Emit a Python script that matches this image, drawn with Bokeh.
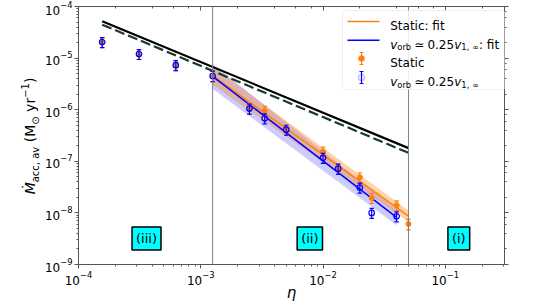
import numpy as np
from bokeh.plotting import figure
from bokeh.layouts import row
from bokeh.models import (LogAxis, Label, Span, BoxAnnotation, Arrow, TeeHead,
                          Range1d, CustomJSTickFormatter, Div)
from bokeh.embed import file_html
from bokeh.resources import INLINE

# ---------------- data ----------------
eta_static = [1.5625e-4, 3.125e-4, 6.25e-4, 1.25e-3, 2.5e-3, 3.33e-3, 5e-3,
              1e-2, 1.33e-2, 2e-2, 2.5e-2, 4e-2, 5e-2]
mdot_static = [2.05e-5, 1.2e-5, 7.3e-6, 4.5e-6, 1.05e-6, 9.5e-7, 4.1e-7,
               1.55e-7, 7.2e-8, 4.9e-8, 1.95e-8, 1.4e-8, 6.1e-9]
err_static = [4.5e-6, 2.6e-6, 1.6e-6, 1.0e-6, 2.3e-7, 2.1e-7, 9e-8,
              3.4e-8, 1.6e-8, 1.1e-8, 4.3e-9, 3.1e-9, 1.4e-9]

eta_orb = [1.5625e-4, 3.125e-4, 6.25e-4, 1.25e-3, 2.5e-3, 3.33e-3, 5e-3,
           1e-2, 1.33e-2, 2e-2, 2.5e-2, 4e-2]
mdot_orb = [2.05e-5, 1.2e-5, 7.3e-6, 4.5e-6, 1.05e-6, 6.8e-7, 4.1e-7,
            1.17e-7, 7.2e-8, 3.1e-8, 1.0e-8, 8.6e-9]
err_orb = [4.5e-6, 2.6e-6, 1.6e-6, 1.0e-6, 2.3e-7, 1.5e-7, 9e-8,
           2.6e-8, 1.6e-8, 6.8e-9, 2.2e-9, 1.9e-9]

# power-law fits: log10(Mdot) = a + b*log10(eta), with 1-sigma errors
fit_static = dict(a=-10.276, b=-1.70, da=0.06, db=0.04, eta=[1.25e-3, 5e-2])
fit_orb = dict(a=-10.623, b=-1.815, da=0.072, db=0.058, eta=[1.25e-3, 4e-2])

# analytic estimates (black lines)
eta_analytic = [1.5625e-4, 5e-2]
mdot_solid = [5.2e-5, 1.8e-7]
mdot_dashed = [4.45e-5, 1.46e-7]

# regimes
regime_bounds = [1.25e-3, 5e-2]
regime_names = ["(iii)", "(ii)", "(i)"]
regime_eta = [3.6e-4, 7.8e-3, 0.129]
regime_mdot = 3.2e-9

ORANGE = "#ff7f0e"
BLUE = "#0000ff"
FONT = "DejaVu Sans"

DIV_W = 41
W, H_FIG = 538 - DIV_W, 304
BL, BR, BT, BB = 70 - DIV_W, 34, 6, 37
FW = W - BL - BR
FH = H_FIG - BT - BB

p = figure(width=W, height=H_FIG, x_axis_type="log", y_axis_type="log",
           x_range=Range1d(1e-4, 0.305), y_range=Range1d(1e-9, 1e-4),
           output_backend="svg", toolbar_location=None,
           min_border_left=BL, min_border_right=BR, min_border_top=BT,
           min_border_bottom=BB)
p.grid.visible = False
p.outline_line_color = None
p.background_fill_color = "white"
p.border_fill_color = "white"


def style_axis(ax, labels=True, inward=False):
    ax.axis_line_color = "#555555"
    ax.major_tick_line_color = "#555555"
    ax.minor_tick_line_color = "#555555"
    if inward:
        ax.major_tick_in, ax.major_tick_out = 4, 0
        ax.minor_tick_in, ax.minor_tick_out = 2, 0
    else:
        ax.major_tick_in, ax.major_tick_out = 0, 4
        ax.minor_tick_in, ax.minor_tick_out = 0, 2
    ax.major_label_text_font = FONT
    ax.major_label_text_font_size = "12px"
    ax.major_label_text_color = "black"
    ax.major_label_standoff = 2
    if not labels:
        ax.formatter = CustomJSTickFormatter(code="return ''")
        ax.major_label_standoff = 0


style_axis(p.xaxis[0])
style_axis(p.yaxis[0])
p.xaxis.axis_label = "η"
p.xaxis.axis_label_text_font = FONT
p.xaxis.axis_label_text_font_style = "italic"
p.xaxis.axis_label_text_font_size = "15px"
p.xaxis.axis_label_text_color = "black"
p.xaxis.axis_label_standoff = -4

top_ax = LogAxis()
style_axis(top_ax, labels=False, inward=True)
p.add_layout(top_ax, "above")
right_ax = LogAxis()
style_axis(right_ax, labels=False)
p.add_layout(right_ax, "right")

# ---------------- fit bands and lines ----------------
for fit, col, alpha in ((fit_orb, BLUE, 0.2), (fit_static, ORANGE, 0.35)):
    le = np.log10(np.array(fit["eta"]))
    upper = 10 ** ((fit["a"] + fit["da"]) + (fit["b"] - fit["db"]) * le)
    lower = 10 ** ((fit["a"] - fit["da"]) + (fit["b"] + fit["db"]) * le)
    p.varea(x=fit["eta"], y1=lower, y2=upper, fill_color=col, fill_alpha=alpha)

# analytic lines
p.line(eta_analytic, mdot_solid, line_color="black", line_width=2.2)
p.line(eta_analytic, mdot_dashed, line_color="#173a2c", line_width=2.2,
       line_dash="10 4")

for fit, col in ((fit_static, ORANGE), (fit_orb, BLUE)):
    le = np.log10(np.array(fit["eta"]))
    p.line(fit["eta"], 10 ** (fit["a"] + fit["b"] * le), line_color=col,
           line_width=1.5)

# ---------------- data points with error bars ----------------
def errorbars(x, y, e, col):
    x = np.array(x); y = np.array(y); e = np.array(e)
    p.segment(x0=x, y0=y - e, x1=x, y1=y + e, line_color=col, line_width=1.2)
    p.scatter(x=np.concatenate([x, x]), y=np.concatenate([y - e, y + e]),
              marker="dash", size=4.5, line_color=col, line_width=1.2)


errorbars(eta_static, mdot_static, err_static, ORANGE)
p.scatter(eta_static, mdot_static, marker="circle", size=5,
          fill_color=ORANGE, line_color=ORANGE)
errorbars(eta_orb, mdot_orb, err_orb, BLUE)
p.scatter(eta_orb, mdot_orb, marker="circle", size=5.5, fill_color=None,
          line_color=BLUE, line_width=1.2)

# regime boundaries
for b in regime_bounds:
    p.add_layout(Span(location=b, dimension="height", line_color="#808080",
                      line_width=1))

for name, ex in zip(regime_names, regime_eta):
    p.add_layout(Label(x=ex, y=regime_mdot, text=name, text_align="center",
                       text_baseline="middle", text_font=FONT,
                       text_font_size="13px", text_color="black",
                       background_fill_color="#00ffff",
                       border_line_color="black", border_line_width=1.5,
                       padding=4))

# ---------------- legend (manual) ----------------
LR = FW - 7
LT = FH - 7
LL = LR - 163
LB = LT - 79
p.add_layout(BoxAnnotation(left=LL, right=LR, top=LT, bottom=LB,
                           left_units="screen", right_units="screen",
                           top_units="screen", bottom_units="screen",
                           fill_color="white", fill_alpha=0.85,
                           line_color="#cccccc", line_width=1,
                           border_radius=3))
rows = [LT - 11, LT - 29.7, LT - 48, LT - 67]
TX = LL + 47.7

for ry, col in ((rows[0], ORANGE), (rows[1], BLUE)):
    p.add_layout(Arrow(x_start=LL + 5, y_start=ry, x_end=LL + 37, y_end=ry,
                       start_units="screen", end_units="screen",
                       start=None, end=None, line_color=col, line_width=1.5))
for ry, col, filled in ((rows[2], ORANGE, True), (rows[3], BLUE, False)):
    mx = LL + 19
    p.add_layout(Arrow(x_start=mx, y_start=ry - 6, x_end=mx, y_end=ry + 6,
                       start_units="screen", end_units="screen",
                       start=TeeHead(size=4, line_color=col, line_width=1.2),
                       end=TeeHead(size=4, line_color=col, line_width=1.2),
                       line_color=col, line_width=1.2))
    r = 3
    p.add_layout(BoxAnnotation(left=mx - r, right=mx + r, bottom=ry - r,
                               top=ry + r, left_units="screen",
                               right_units="screen", top_units="screen",
                               bottom_units="screen",
                               fill_color=col if filled else "white",
                               fill_alpha=1.0 if filled else 0.0,
                               line_color=col, line_width=1.2,
                               border_radius=r))


def leg_text(x, y, txt, size=12, style="normal"):
    p.add_layout(Label(x=x, y=y, x_units="screen", y_units="screen", text=txt,
                       text_align="left", text_baseline="alphabetic",
                       text_font=FONT, text_font_size=f"{size}px",
                       text_font_style=style, text_color="black"))


def vorb_label(y_center, suffix):
    base = y_center - 4.4
    leg_text(TX, base, "v", style="italic")
    leg_text(TX + 7.1, base - 2.6, "orb", size=8.4)
    leg_text(TX + 24.0, base, "≃")
    leg_text(TX + 37.2, base, "0.25")
    leg_text(TX + 64.0, base, "v", style="italic")
    leg_text(TX + 71.1, base - 2.6, "1, ∞", size=8.4)
    if suffix:
        leg_text(TX + 88.8, base, suffix)


leg_text(TX, rows[0] - 4.4, "Static: fit")
vorb_label(rows[1], ": fit")
leg_text(TX, rows[2] - 4.4, "Static")
vorb_label(rows[3], "")

# ---------------- y axis label (HTML, rotated) ----------------
sub = "font-size:10px; position:relative; top:3.5px;"
sup = "font-size:10px; position:relative; top:-6px;"
ylabel_html = (
    '<div style="position:absolute; left:23px; top:%dpx; '
    'transform-origin:0 0; transform:rotate(-90deg) translateX(-50%%); '
    'white-space:nowrap; font-family:\'DejaVu Sans\'; font-size:14px; '
    'line-height:14px; color:black;">'
    '<i>Ṁ</i><span style="%s">acc, av</span> (M<span style="%s">⊙</span>'
    ' yr<span style="%s">−1</span>)</div>' % (BT + FH // 2, sub, sub, sup)
)
div = Div(text=ylabel_html, width=DIV_W, height=H_FIG, margin=0,
          styles={"position": "relative", "overflow": "visible"})

layout = row(div, p, spacing=0)
open("out.html", "w").write(file_html(layout, INLINE))
